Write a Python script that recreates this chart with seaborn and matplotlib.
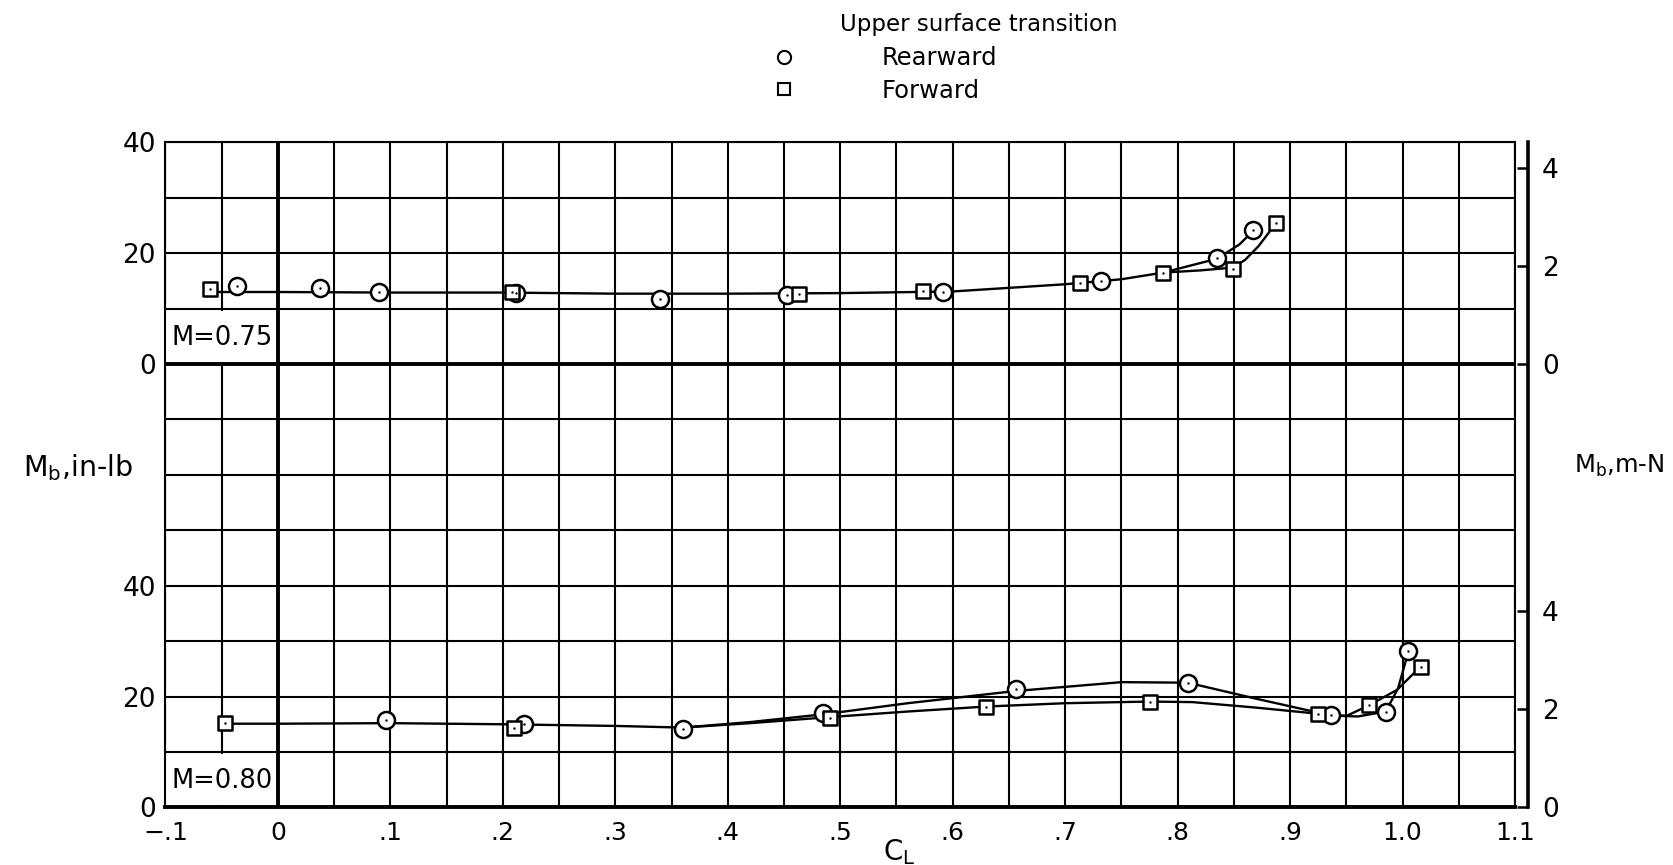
import numpy as np
import pandas as pd
import matplotlib.pyplot as plt
import seaborn as sns
from matplotlib.lines import Line2D
from matplotlib.patches import Rectangle

m75_rear_cl = [-0.036, 0.037, 0.090, 0.212, 0.340, 0.453, 0.591, 0.732, 0.835, 0.867]
m75_rear_mb = [14.1, 13.7, 13.0, 12.9, 11.8, 12.5, 13.0, 15.0, 19.2, 24.2]
m75_fwd_cl = [-0.060, 0.208, 0.463, 0.574, 0.713, 0.787, 0.849, 0.887]
m75_fwd_mb = [13.6, 13.0, 12.7, 13.2, 14.6, 16.5, 17.2, 25.5]

m80_rear_cl = [0.096, 0.219, 0.360, 0.485, 0.656, 0.809, 0.936, 0.985, 1.005]
m80_rear_mb = [15.7, 15.1, 14.1, 17.1, 21.3, 22.5, 16.6, 17.3, 28.3]
m80_fwd_cl = [-0.047, 0.210, 0.491, 0.630, 0.775, 0.925, 0.970, 1.016]
m80_fwd_mb = [15.3, 14.4, 16.2, 18.2, 19.1, 16.9, 18.4, 25.4]

# DATA: faired curves
m75_rear_fair_cl = [-0.060, 0.0, 0.1, 0.2, 0.3, 0.4, 0.5, 0.6, 0.7, 0.75, 0.787, 0.835, 0.855, 0.867]
m75_rear_fair_mb = [13.0, 13.0, 12.9, 12.9, 12.7, 12.7, 12.8, 13.1, 14.4, 15.3, 16.5, 19.0, 21.6, 24.0]
m75_fwd_fair_cl = [0.787, 0.82, 0.849, 0.860, 0.872, 0.887]
m75_fwd_fair_mb = [16.5, 16.9, 17.4, 18.8, 21.3, 25.3]

m80_rear_fair_cl = [-0.047, 0.0, 0.1, 0.2, 0.3, 0.36, 0.42, 0.485, 0.56, 0.656, 0.75, 0.809, 0.87, 0.936, 0.96, 0.985, 0.996, 1.005]
m80_rear_fair_mb = [15.1, 15.1, 15.2, 15.0, 14.7, 14.4, 15.4, 16.8, 18.8, 21.0, 22.6, 22.5, 19.6, 16.6, 16.4, 17.3, 21.5, 28.0]
m80_fwd_fair_cl = [0.36, 0.42, 0.491, 0.56, 0.630, 0.70, 0.775, 0.813, 0.87, 0.925, 0.95, 0.970, 0.995, 1.016]
m80_fwd_fair_mb = [14.4, 15.2, 16.3, 17.3, 18.2, 18.8, 19.1, 19.0, 18.0, 16.9, 16.5, 18.4, 21.2, 25.4]

# DATA: axes
x_ticks = [-0.1, 0.0, 0.1, 0.2, 0.3, 0.4, 0.5, 0.6, 0.7, 0.8, 0.9, 1.0, 1.1]
x_tick_labels = ['\u2212.1', '0', '.1', '.2', '.3', '.4', '.5', '.6', '.7', '.8', '.9', '1.0', '1.1']
y_tick_values = [0, 20, 40]
mn_tick_values = [0, 2, 4]
IN_LB_PER_M_N = 8.8507

# LAYOUT: vertical offset of each Mach panel on the shared grid
panels = {'M=0.75': 80, 'M=0.80': 0}

sns.set_style("white")
plt.rcParams['font.family'] = ['DejaVu Sans']
plt.rcParams['text.color'] = 'black'
plt.rcParams['xtick.color'] = 'black'
plt.rcParams['ytick.color'] = 'black'
plt.rcParams['axes.labelcolor'] = 'black'

fig = plt.figure(figsize=(16.73, 8.65), dpi=100)
ax = fig.add_axes([0.0989, 0.0666, 0.8067, 0.7688])
ax.set_xlim(-0.1, 1.1)
ax.set_ylim(0, 120)

# GRAPH: grid
ax.set_xticks(x_ticks, x_tick_labels)
ax.set_xticks(np.arange(-0.1, 1.1001, 0.05), minor=True)
yt = [v + off for off in sorted(panels.values()) for v in y_tick_values]
ax.set_yticks(yt, [str(v) for off in sorted(panels.values()) for v in y_tick_values])
ax.set_yticks(np.arange(0, 121, 10), minor=True)
ax.tick_params(which='both', length=0)
ax.tick_params(axis='x', labelsize=18, pad=10)
ax.tick_params(axis='y', labelsize=19, pad=7)
ax.grid(True, which='both', color='black', linewidth=1.5)
ax.set_axisbelow(True)
for s in ax.spines.values():
    s.set_color('black')
    s.set_linewidth(1.5)
ax.spines['bottom'].set_linewidth(2.8)
ax.axvline(0, color='black', lw=2.8, zorder=1.5)
ax.axhline(panels['M=0.75'], color='black', lw=2.8, zorder=1.5)

# GRAPH: panel labels
for name, off in panels.items():
    ax.add_patch(Rectangle((-0.0995, off + 0.4), 0.0985, 9.2, facecolor='white', edgecolor='none', zorder=1))
    ax.text(-0.095, off + 4.7, name, fontsize=18.5, va='center', ha='left', zorder=2)

# GRAPH: faired curves
curves = [
    (m75_rear_fair_cl, m75_rear_fair_mb, panels['M=0.75']),
    (m75_fwd_fair_cl, m75_fwd_fair_mb, panels['M=0.75']),
    (m80_rear_fair_cl, m80_rear_fair_mb, panels['M=0.80']),
    (m80_fwd_fair_cl, m80_fwd_fair_mb, panels['M=0.80']),
]
for cl, mb, off in curves:
    sns.lineplot(x=cl, y=np.array(mb) + off, sort=False, estimator=None,
                 color='black', linewidth=1.7, ax=ax, zorder=3)

# GRAPH: data points
pts = [
    (m75_rear_cl, m75_rear_mb, panels['M=0.75'], 'o', 150),
    (m75_fwd_cl, m75_fwd_mb, panels['M=0.75'], 's', 115),
    (m80_rear_cl, m80_rear_mb, panels['M=0.80'], 'o', 150),
    (m80_fwd_cl, m80_fwd_mb, panels['M=0.80'], 's', 115),
]
for cl, mb, off, mk, size in pts:
    y = np.array(mb) + off
    sns.scatterplot(x=cl, y=y, marker=mk, s=size, facecolor='white',
                    edgecolor='black', linewidth=1.8, ax=ax, zorder=4)
    sns.scatterplot(x=cl, y=y, marker='o', s=3, color='black', linewidth=0, ax=ax, zorder=5)

# GRAPH: right axis in m-N
ax2 = ax.twinx()
ax2.set_ylim(ax.get_ylim())
rt = [v * IN_LB_PER_M_N + off for off in sorted(panels.values()) for v in mn_tick_values]
ax2.set_yticks(rt, [str(v) for off in sorted(panels.values()) for v in mn_tick_values])
ax2.grid(False)
for side in ['left', 'top', 'bottom']:
    ax2.spines[side].set_visible(False)
ax2.spines['right'].set_position(('outward', 9.5))
ax2.spines['right'].set_linewidth(2.6)
ax2.spines['right'].set_color('black')
ax2.tick_params(axis='y', direction='in', length=8, width=1.8, labelsize=19, pad=10, color='black')

# GRAPH: axis titles
fig.text(23 / 1673, 1 - 468 / 865, 'M$_\\mathregular{b}$,in-lb', fontsize=20.5, va='center', ha='left')
fig.text(1574 / 1673, 1 - 466 / 865, 'M$_\\mathregular{b}$,m-N', fontsize=17.5, va='center', ha='left')
fig.text(899 / 1673, 1 - 852 / 865, 'C$_\\mathregular{L}$', fontsize=20, va='center', ha='center')

# GRAPH: key
fig.text(840 / 1673, 1 - 25 / 865, 'Upper surface transition', fontsize=16.5, va='center', ha='left')
handles = [
    Line2D([], [], marker='o', linestyle='none', markersize=9.5, markerfacecolor='white',
           markeredgecolor='black', markeredgewidth=1.5),
    Line2D([], [], marker='s', linestyle='none', markersize=8.5, markerfacecolor='white',
           markeredgecolor='black', markeredgewidth=1.5),
]
fig.legend(handles, ['Rearward', 'Forward'], loc='upper left', bbox_to_anchor=(760 / 1673, 1 - 34 / 865),
           frameon=False, fontsize=17.5, handlelength=1.0, handletextpad=3.5, labelspacing=0.35, borderpad=0)

plt.savefig('out.png', dpi=100)
